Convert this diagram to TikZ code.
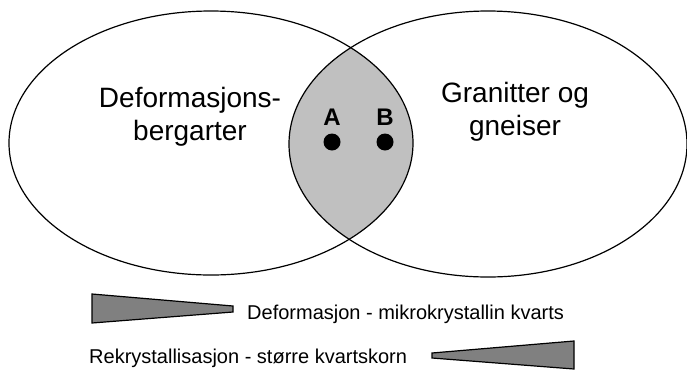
\documentclass[tikz,border=0pt]{standalone}
\usepackage{fontspec}
\setmainfont{Liberation Sans}
\usetikzlibrary{positioning}

\definecolor{lensgray}{HTML}{C0C0C0}
\definecolor{wedgegray}{HTML}{808080}

\begin{document}
\begin{tikzpicture}[
x=1pt, y=-1pt,
node distance=8pt,
setlabel/.style={align=center, inner sep=0pt, font=\fontsize{28}{33}\selectfont},
pointlabel/.style={inner sep=0pt, font=\fontsize{24}{24}\selectfont\bfseries},
dot/.style={circle, fill=black, minimum size=17pt, inner sep=0pt},
legendtext/.style={anchor=base west, inner sep=0pt, font=\fontsize{20}{24}\selectfont},
wedge/.style={draw, line width=1.2pt, fill=wedgegray, line join=miter}
]
\useasboundingbox (0,0) rectangle (687,370);
\coordinate (cL) at (211,143);
\coordinate (cR) at (488,144);
% shaded overlap of the two sets
\begin{scope}
\clip (cL) ellipse [x radius=202, y radius=132];
\fill[lensgray] (cR) ellipse [x radius=199, y radius=133];
\end{scope}
\draw[line width=1.2pt] (cL) ellipse [x radius=202, y radius=132];
\draw[line width=1.2pt] (cR) ellipse [x radius=199, y radius=133];
\node[setlabel] (defLabel) at (190,117) {Deformasjons-\\bergarter};
\node[setlabel] (graLabel) at (515,112) {Granitter og\\gneiser};
\node[dot] (dotA) at (332,142) {};
\node[dot] (dotB) at (385,142) {};
\node[pointlabel, above=of dotA] (labA) {A};
\node[pointlabel, above=of dotB] (labB) {B};
% legend wedges
\draw[wedge] (92,294) -- (233,306) -- (233,312) -- (92,323) -- cycle;
\node[legendtext] (defText) at (247,319) {Deformasjon - mikrokrystallin kvarts};
\node[legendtext] (rekText) at (89,363) {Rekrystallisasjon - større kvartskorn};
\draw[wedge] (574,341) -- (432,353) -- (432,358) -- (574,369) -- cycle;
\end{tikzpicture}
\end{document}
